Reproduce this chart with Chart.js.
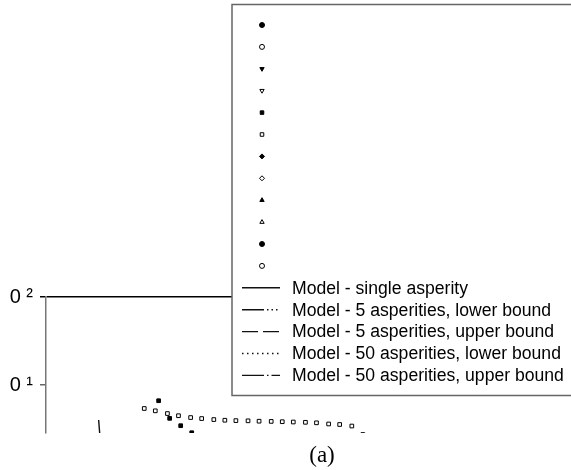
<!DOCTYPE html>
<html>
<head>
<meta charset="utf-8">
<title>(a)</title>
<script src="https://cdn.jsdelivr.net/npm/chart.js@4.4.1/dist/chart.umd.min.js"></script>
<style>
html, body { margin:0; padding:0; background:#fff; overflow:hidden; }
#wrap { width:598px; height:470px; }
</style>
</head>
<body>
<div id="wrap"><canvas id="chart" width="598" height="470"></canvas></div>
<script>
// points (x in plot units, y on the log axis)
const openSqX = [8.9, 9.9, 11.0, 12.0, 13.1, 14.1, 15.2, 16.2, 17.2, 18.3, 19.3, 20.4, 21.4, 22.4, 23.5, 24.5, 25.6, 26.6, 27.7, 28.7];
const openSqY = [5.41, 5.09, 4.74, 4.48, 4.27, 4.16, 4.05, 3.98, 3.94, 3.92, 3.88, 3.86, 3.83, 3.80, 3.77, 3.72, 3.61, 3.56, 3.42, 2.74];

const fillSqX = [10.2, 11.2, 12.2, 13.2];
const fillSqY = [6.63, 4.18, 3.45, 2.87];

const singleX = [4.77, 4.83, 4.9];
const singleY = [4.0, 3.2, 2.5];

const lineLabels = [
"Model - single asperity",
"Model - 5 asperities, lower bound",
"Model - 5 asperities, upper bound",
"Model - 50 asperities, lower bound",
"Model - 50 asperities, upper bound"
];

const yTickValues = [10, 100];
const yTickLabels = ["0 \u00b9", "0 \u00b2"];
const xTitle = "(a)";

function pts(xs, ys){
return xs.map((x, i) => ({x: x, y: ys[i]}));
}

// marker series, in legend order
const markerStyles = [
{style:"circle", rot:0, filled:true},
{style:"circle", rot:0, filled:false},
{style:"triangle", rot:180, filled:true},
{style:"triangle", rot:180, filled:false},
{style:"rect", rot:0, filled:true},
{style:"rect", rot:0, filled:false},
{style:"rectRot", rot:0, filled:true},
{style:"rectRot", rot:0, filled:false},
{style:"triangle", rot:0, filled:true},
{style:"triangle", rot:0, filled:false},
{style:"circle", rot:0, filled:true},
{style:"circle", rot:0, filled:false}
];
const markerData = [[], [], [], [], pts(fillSqX, fillSqY), pts(openSqX, openSqY), [], [], [], [], [], []];

const lineDashes = [[], [22, 3, 1.5, 3, 1.5, 3, 1.5, 3], [16, 5], [1.5, 3.5], [22, 3, 1.5, 3, 10, 3]];
const lineData = [pts(singleX, singleY), [], [], [], []];

const datasets = [];

markerStyles.forEach((m, i) => {
datasets.push({
label: "",
data: markerData[i],
showLine: false,
pointStyle: m.style,
pointRotation: m.rot,
pointRadius: 2.6,
backgroundColor: m.filled ? "#000" : "#fff",
borderColor: "#000",
borderWidth: 1,
clip: 0
});
});

lineLabels.forEach((lab, i) => {
datasets.push({
label: lab,
data: lineData[i],
showLine: true,
pointRadius: 0,
borderColor: "#111",
borderWidth: 1.4,
borderDash: lineDashes[i],
clip: 0
});
});

function markerAt(ctx, ds, r, x, y){
if(Chart.helpers && Chart.helpers.drawPoint){
Chart.helpers.drawPoint(ctx, {pointStyle: ds.pointStyle, rotation: ds.pointRotation, radius: r, borderWidth: ds.borderWidth}, x, y);
return;
}
ctx.beginPath();
ctx.arc(x, y, r, 0, Math.PI * 2);
ctx.fill();
ctx.stroke();
}

// legend box: runs off the right edge of the figure, so no right side
const boxLegend = {
id: "boxLegend",
afterDatasetsDraw(chart, args, o){
const ctx = chart.ctx;
const right = chart.width;
ctx.save();
ctx.fillStyle = "#fff";
ctx.fillRect(o.left, o.top, right - o.left, o.height);
ctx.strokeStyle = "#666";
ctx.lineWidth = 1.5;
ctx.beginPath();
ctx.moveTo(right, o.top);
ctx.lineTo(o.left, o.top);
ctx.lineTo(o.left, o.top + o.height);
ctx.lineTo(right, o.top + o.height);
ctx.stroke();

chart.data.datasets.forEach((ds, i) => {
const y = o.rowTop + i * o.rowStep;
if(ds.showLine){
ctx.strokeStyle = ds.borderColor;
ctx.lineWidth = ds.borderWidth;
ctx.setLineDash(ds.borderDash);
ctx.beginPath();
ctx.moveTo(o.sampleLeft, y);
ctx.lineTo(o.sampleLeft + o.sampleWidth, y);
ctx.stroke();
ctx.setLineDash([]);
ctx.fillStyle = "#000";
ctx.font = o.font;
ctx.textBaseline = "middle";
ctx.textAlign = "left";
ctx.fillText(ds.label, o.textLeft, y + 1);
} else {
ctx.fillStyle = ds.backgroundColor;
ctx.strokeStyle = ds.borderColor;
ctx.lineWidth = ds.borderWidth;
markerAt(ctx, ds, o.markerRadius, o.markerX, y);
}
});
ctx.restore();
}
};

const tickFont = {family: "Arial, 'Liberation Sans', sans-serif", size: 20};

const chart =
new Chart(document.getElementById("chart"), {
type: "scatter",
data: {datasets: datasets},
options: {
responsive: false,
animation: false,
devicePixelRatio: 1,
layout: {padding: {top: 297, left: 0, right: 0, bottom: 0}, autoPadding: false},
plugins: {
legend: {display: false},
tooltip: {enabled: false},
boxLegend: {
left: 232, top: 4.5, height: 391,
rowTop: 25, rowStep: 21.9,
markerX: 262, markerRadius: 2.5,
sampleLeft: 242, sampleWidth: 38,
textLeft: 292,
font: "17.6px Arial, 'Liberation Sans', sans-serif"
}
},
scales: {
x: {
type: "linear",
min: 0,
max: 50,
ticks: {display: false},
grid: {display: false, drawTicks: false},
border: {display: false},
title: {
display: true,
text: xTitle,
color: "#000",
font: {family: "'Times New Roman', 'Liberation Serif', serif", size: 23},
padding: {top: 9.4, bottom: 0}
}
},
y: {
type: "logarithmic",
min: 2.85,
max: 100,
afterBuildTicks(s){
s.ticks = yTickValues.map(v => ({value: v}));
},
afterFit(s){
s.width = 46;
},
ticks: {
color: "#000",
font: tickFont,
padding: 7,
callback(v){
return yTickLabels[yTickValues.indexOf(v)];
}
},
grid: {
lineWidth: 1.5,
tickLength: 6,
color: c => (c.tick && c.tick.value === 100) ? "#000" : "rgba(0,0,0,0)",
tickColor: c => (c.tick && c.tick.value === 100) ? "#000" : "#666"
},
border: {color: "#777", width: 1.5}
}
}
},
plugins: [boxLegend]
});
</script>
</body>
</html>
